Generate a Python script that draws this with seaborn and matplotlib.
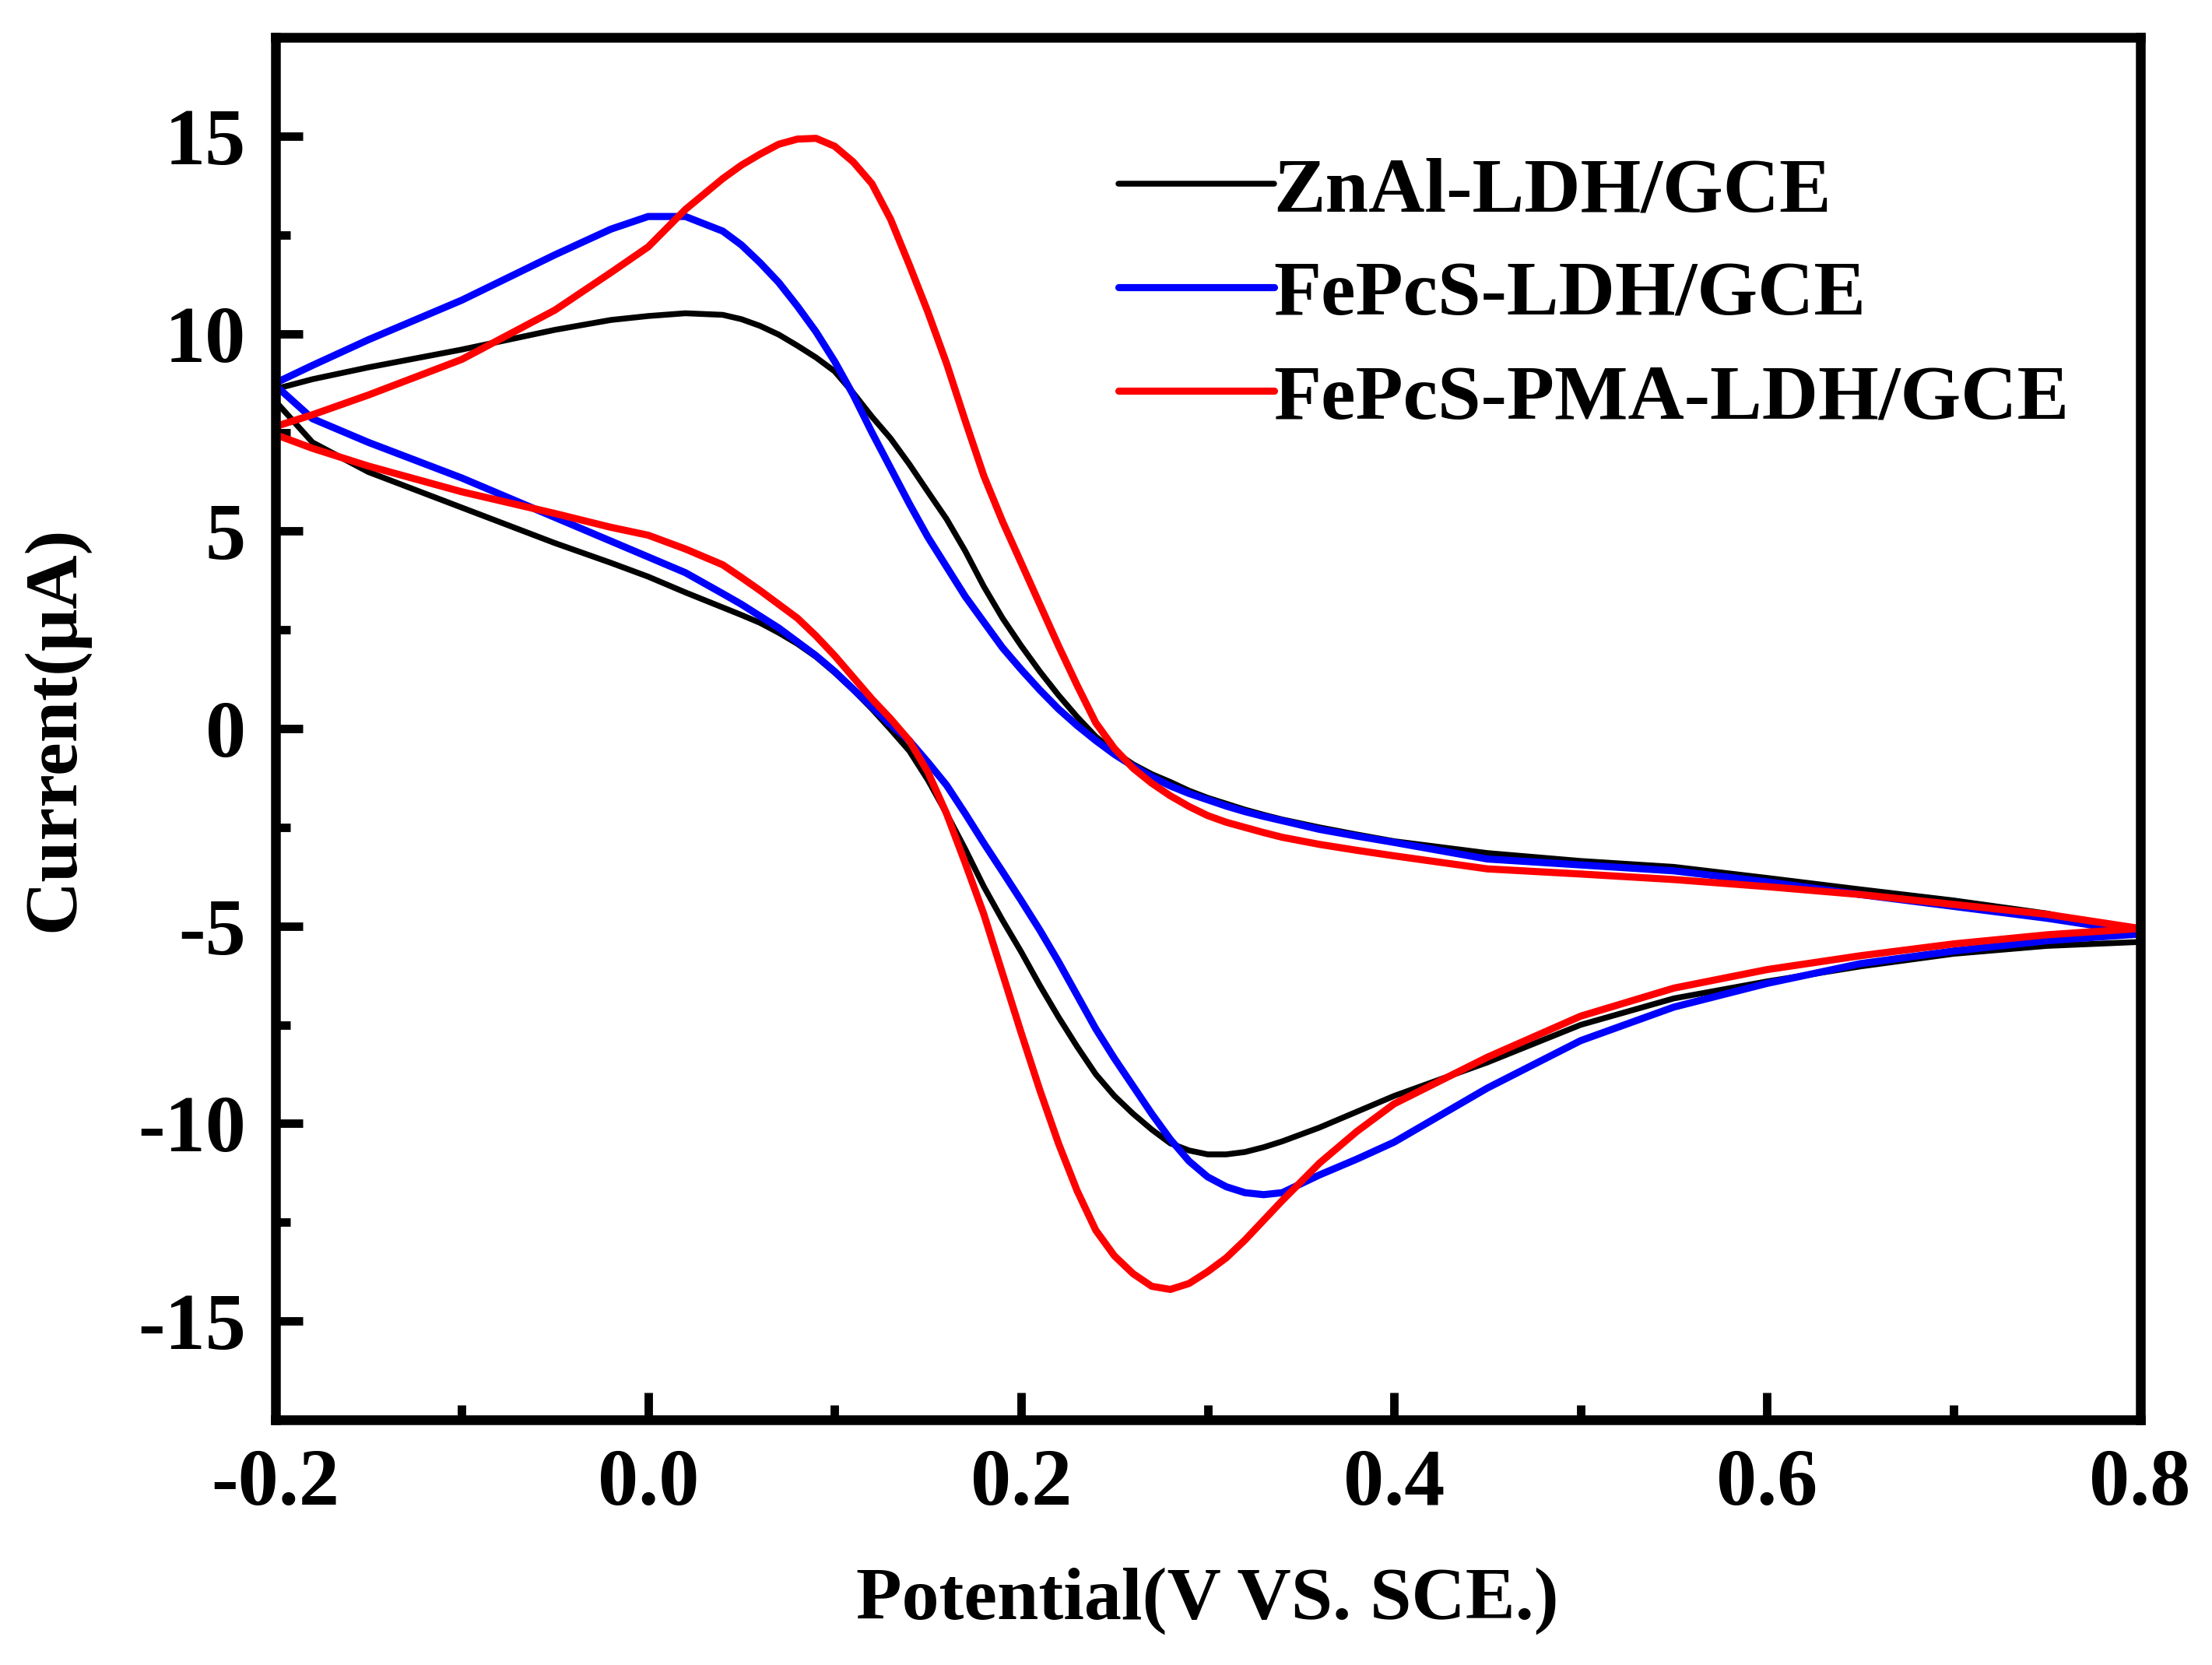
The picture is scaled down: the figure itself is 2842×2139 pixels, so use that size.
import pandas as pd
import matplotlib
matplotlib.use('Agg')
import matplotlib.pyplot as plt
import seaborn as sns
from matplotlib.ticker import MultipleLocator

# Potential grid (V vs. SCE), shared by every scan branch
potential = [-0.2, -0.18, -0.15, -0.1, -0.05, -0.02, 0.0, 0.02, 0.04, 0.05,
             0.06, 0.07, 0.08, 0.09, 0.1, 0.11, 0.12, 0.13, 0.14, 0.15,
             0.16, 0.17, 0.18, 0.19, 0.2, 0.21, 0.22, 0.23, 0.24, 0.25,
             0.26, 0.27, 0.28, 0.29, 0.3, 0.31, 0.32, 0.33, 0.34,
             0.36, 0.38, 0.4, 0.45, 0.5, 0.55, 0.6, 0.65, 0.7, 0.75, 0.8]

# anodic (forward) and cathodic (reverse) currents in uA, read at each potential
znal_fwd = [8.6, 8.85, 9.15, 9.6, 10.1, 10.35, 10.45, 10.52, 10.48, 10.37,
            10.2, 9.98, 9.7, 9.4, 9.05, 8.5, 7.9, 7.35, 6.7, 6.0,
            5.31, 4.5, 3.6, 2.8, 2.1, 1.45, 0.85, 0.3, -0.2, -0.58,
            -0.9, -1.15, -1.35, -1.57, -1.75, -1.9, -2.05, -2.18, -2.3,
            -2.5, -2.68, -2.85, -3.15, -3.35, -3.5, -3.78, -4.07, -4.35, -4.68, -5.2]
znal_rev = [8.3, 7.25, 6.5, 5.6, 4.7, 4.2, 3.85, 3.45, 3.07, 2.88,
            2.68, 2.43, 2.15, 1.82, 1.42, 0.98, 0.5, -0.02, -0.56, -1.3,
            -2.15, -3.05, -4.0, -4.85, -5.65, -6.5, -7.3, -8.05, -8.75, -9.3,
            -9.75, -10.15, -10.5, -10.68, -10.78, -10.78, -10.72, -10.6, -10.45,
            -10.1, -9.7, -9.3, -8.45, -7.5, -6.83, -6.4, -6.02, -5.7, -5.5, -5.4]

fepcs_fwd = [8.75, 9.2, 9.85, 10.85, 12.0, 12.65, 12.97, 12.97, 12.6, 12.25,
             11.8, 11.3, 10.7, 10.05, 9.3, 8.45, 7.5, 6.6, 5.7, 4.85,
             4.1, 3.35, 2.7, 2.05, 1.5, 0.98, 0.5, 0.08, -0.3, -0.65,
             -0.95, -1.22, -1.45, -1.64, -1.8, -1.96, -2.1, -2.22, -2.33,
             -2.55, -2.72, -2.88, -3.3, -3.45, -3.6, -3.88, -4.2, -4.5, -4.8, -5.16]
fepcs_rev = [8.7, 7.85, 7.25, 6.35, 5.35, 4.75, 4.35, 3.95, 3.42, 3.15,
             2.85, 2.55, 2.2, 1.85, 1.45, 1.0, 0.55, 0.1, -0.3, -0.85,
             -1.43, -2.15, -2.9, -3.62, -4.35, -5.1, -5.9, -6.75, -7.6, -8.35,
             -9.05, -9.75, -10.4, -10.95, -11.35, -11.6, -11.75, -11.8, -11.75,
             -11.3, -10.9, -10.47, -9.1, -7.9, -7.05, -6.45, -5.95, -5.63, -5.37, -5.2]

pma_fwd = [7.65, 7.95, 8.45, 9.35, 10.6, 11.55, 12.2, 13.15, 13.93, 14.27,
           14.55, 14.8, 14.93, 14.95, 14.75, 14.35, 13.8, 12.9, 11.75, 10.55,
           9.25, 7.8, 6.4, 5.25, 4.2, 3.15, 2.1, 1.1, 0.15, -0.5,
           -1.0, -1.38, -1.7, -1.97, -2.2, -2.37, -2.5, -2.63, -2.75,
           -2.93, -3.08, -3.22, -3.55, -3.68, -3.82, -4.0, -4.2, -4.45, -4.7, -5.06]
pma_rev = [7.45, 7.1, 6.65, 6.0, 5.45, 5.1, 4.9, 4.55, 4.15, 3.83,
           3.5, 3.15, 2.8, 2.35, 1.85, 1.3, 0.75, 0.25, -0.3, -1.1,
           -2.15, -3.4, -4.7, -6.2, -7.7, -9.15, -10.5, -11.7, -12.7, -13.35,
           -13.8, -14.12, -14.2, -14.05, -13.75, -13.4, -12.95, -12.45, -11.95,
           -11.0, -10.2, -9.5, -8.32, -7.28, -6.57, -6.1, -5.75, -5.45, -5.22, -5.06]

labels = ['ZnAl-LDH/GCE', 'FePcS-LDH/GCE', 'FePcS-PMA-LDH/GCE']
colors = ['#000000', '#0000ff', '#ff0000']
widths = [1.8, 2.2, 2.2]

sns.set_style('ticks')
plt.rcParams['font.family'] = ['Liberation Serif', 'DejaVu Serif']
plt.rcParams['font.weight'] = 'bold'
plt.rcParams['axes.labelweight'] = 'bold'
plt.rcParams['axes.unicode_minus'] = False
for key in ['text.color', 'axes.labelcolor', 'xtick.color', 'ytick.color', 'axes.edgecolor']:
    plt.rcParams[key] = 'black'

fig = plt.figure(figsize=(2842 / 300, 2139 / 300), dpi=300)
ax = fig.add_axes([0.1244, 0.1473, 0.8431, 0.8301])

scans = [(znal_fwd, znal_rev), (fepcs_fwd, fepcs_rev), (pma_fwd, pma_rev)]
for (fwd, rev), lab, col, lw in zip(scans, labels, colors, widths):
    # closed loop: forward sweep then reverse sweep back to -0.2 V
    df = pd.DataFrame({'E': potential + potential[::-1], 'I': fwd + rev[::-1]})
    sns.lineplot(data=df, x='E', y='I', sort=False, estimator=None,
                 color=col, lw=lw, label=lab, ax=ax)

ax.set_xlim(-0.2, 0.8)
ax.set_ylim(-17.5, 17.5)
ax.xaxis.set_major_locator(MultipleLocator(0.2))
ax.xaxis.set_minor_locator(MultipleLocator(0.1))
ax.yaxis.set_major_locator(MultipleLocator(5))
ax.yaxis.set_minor_locator(MultipleLocator(2.5))
ax.tick_params(which='both', direction='in', top=False, right=False, width=2.6)
ax.tick_params(which='major', length=8.5, labelsize=25, pad=9)
ax.tick_params(which='minor', length=4.5)
ax.set_xticklabels([f'{v:.1f}' for v in ax.get_xticks()])
for s in ax.spines.values():
    s.set_linewidth(3)
    s.set_color('black')

ax.set_xlabel('Potential(V VS. SCE.)', fontsize=23, labelpad=14)
ax.set_ylabel('Current(μA)', fontsize=23)
ax.yaxis.set_label_coords(-0.100, 0.5)

ax.legend(loc='upper left', bbox_to_anchor=(0.452, 0.914), frameon=False,
          fontsize=24, handlelength=2.0, handletextpad=0.0, labelspacing=0.42,
          borderpad=0, borderaxespad=0)

fig.savefig('out.png', dpi=300)
